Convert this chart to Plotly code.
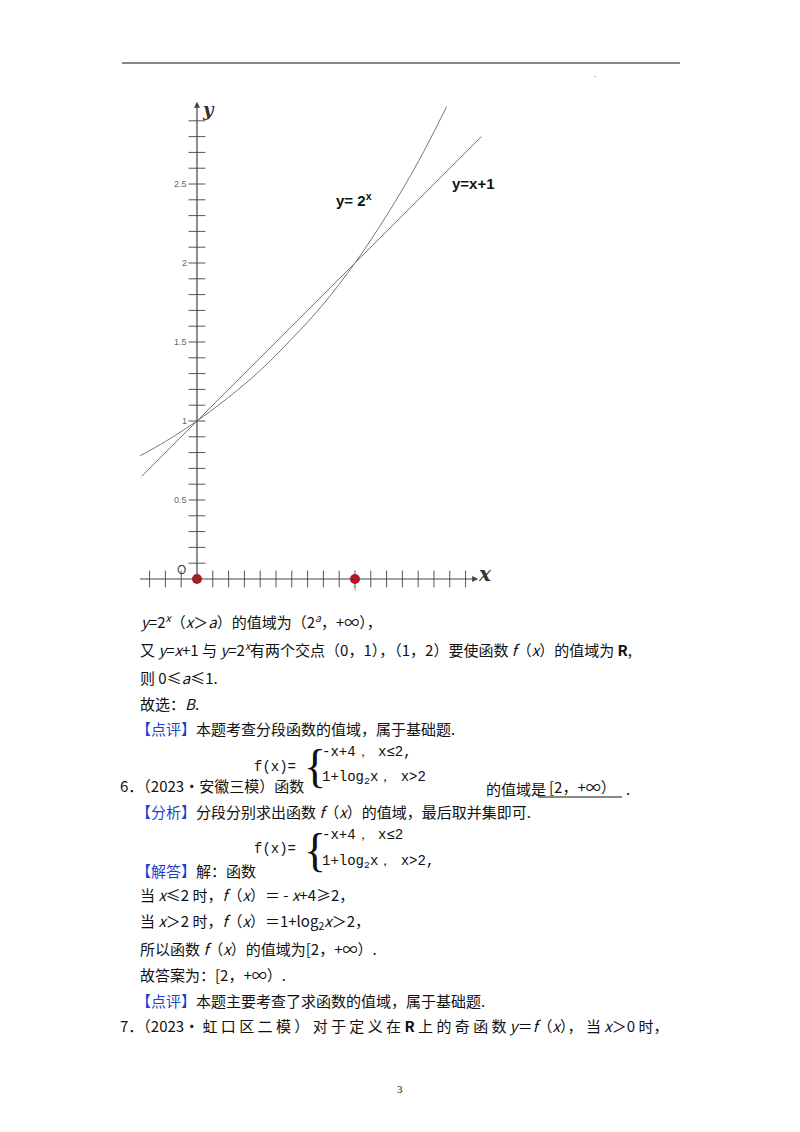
import numpy as np
import plotly.graph_objects as go

# points
exp_x = [-0.36, -0.2, 0.0, 0.2, 0.4, 0.6, 0.8, 1.0, 1.2, 1.4, 1.58]
exp_y = [0.78, 0.87, 1.0, 1.15, 1.32, 1.52, 1.74, 2.0, 2.30, 2.64, 2.99]
lin_x = [-0.35, 0.0, 1.0, 1.80]
lin_y = [0.65, 1.0, 2.0, 2.80]
dot_x = [0, 1]
dot_y = [0, 0]
ytick_vals = [0.5, 1, 1.5, 2, 2.5]
ytick_text = ["0.5", "1", "1.5", "2", "2.5"]

W, H = 800, 1132
OFF = 8  # page body margin in the browser
CURVE = "#8a6a86"
BLUE = "#1f3fd0"
CJK = "Noto Sans CJK SC"


def px(x):
    return (x - OFF) / W


def py(y):
    return 1 - (y - OFF) / H


fig = go.Figure()
fig.add_trace(go.Scatter(x=exp_x, y=exp_y, mode="lines", line=dict(color=CURVE, width=1, shape="spline")))
fig.add_trace(go.Scatter(x=lin_x, y=lin_y, mode="lines", line=dict(color=CURVE, width=1)))

# crossing tick marks on both axes
xt = np.round(np.arange(-0.3, 1.75, 0.1), 2)
xt = xt[xt != 0]
yt = np.round(np.arange(0.1, 2.95, 0.1), 2)
fig.add_trace(go.Scatter(x=xt, y=[0] * len(xt), mode="markers",
                         marker=dict(symbol="line-ns", size=12, line=dict(color="#555", width=1))))
fig.add_trace(go.Scatter(x=[0] * len(yt), y=yt, mode="markers",
                         marker=dict(symbol="line-ew", size=12, line=dict(color="#555", width=1))))
fig.add_trace(go.Scatter(x=dot_x, y=dot_y, mode="markers", marker=dict(color="#c0141c", size=10)))

ann = []
# axes with arrows
ann.append(dict(x=1.78, y=0, ax=-0.37, ay=0, xref="x", yref="y", axref="x", ayref="y",
                showarrow=True, arrowhead=2, arrowsize=1, arrowwidth=1.2, arrowcolor="#444", text=""))
ann.append(dict(x=0, y=3.02, ax=0, ay=-0.03, xref="x", yref="y", axref="x", ayref="y",
                showarrow=True, arrowhead=2, arrowsize=1, arrowwidth=1.2, arrowcolor="#444", text=""))
for v, s in zip(ytick_vals, ytick_text):
    ann.append(dict(x=-0.05, y=v, xref="x", yref="y", text=s, showarrow=False, xanchor="right",
                    font=dict(size=9, color="#666", family="Arial")))
ann.append(dict(x=1, y=-0.06, xref="x", yref="y", text="1", showarrow=False, font=dict(size=7, color="#666")))
ann.append(dict(x=-0.1, y=0.06, xref="x", yref="y", text="O", showarrow=False, font=dict(size=12, color="#333")))
ann.append(dict(x=1.82, y=0.03, xref="x", yref="y", text="<b><i>x</i></b>", showarrow=False,
                font=dict(size=20, family="DejaVu Serif", color="#333")))
ann.append(dict(x=0.07, y=2.97, xref="x", yref="y", text="<b><i>y</i></b>", showarrow=False,
                font=dict(size=18, family="DejaVu Serif", color="#333")))


def t(x, y, text, size=15, family=CJK, anchor="left"):
    ann.append(dict(x=px(x), y=py(y), xref="paper", yref="paper", text=text, showarrow=False,
                    xanchor=anchor, yanchor="middle", font=dict(size=size, family=family, color="#111")))


def tag(s):
    return f"<span style='color:{BLUE}'>【{s}】</span>"


t(334, 200, "<b>y= 2<sup>x</sup></b>", 15, "Arial")
t(450, 183, "<b>y=x+1</b>", 15, "Arial")

t(138, 621, "<i>y</i>=2<sup><i>x</i></sup>（<i>x</i>＞<i>a</i>）的值域为（2<sup><i>a</i></sup>，+∞），")
t(138, 649, "又 <i>y</i>=<i>x</i>+1 与 <i>y</i>=2<sup><i>x</i></sup>有两个交点（0，1），（1，2）要使函数 <i>f</i>（<i>x</i>）的值域为 <b>R</b>,")
t(138, 677, "则 0≤<i>a</i>≤1.")
t(138, 703, "故选：<i>B</i>.")
t(134, 728, tag("点评") + "本题考查分段函数的值域，属于基础题.")

MONO = "Liberation Mono"
t(118, 785, "6．（2023•安徽三模）函数")
t(252, 767, "f(x)=", 14, MONO)
t(302, 766, "{", 46, "Liberation Serif")
t(320, 752, "-x+4， x≤2,", 14, MONO)
t(320, 778, "1+log<sub>2</sub>x， x>2", 14, MONO)
t(484, 788, "的值域是")
t(547, 786, "[2，+∞）")
fig.add_shape(type="line", xref="paper", yref="paper", x0=px(538), x1=px(622), y0=py(797), y1=py(797),
              line=dict(color="#111", width=1))
t(624, 788, ".")
t(134, 811, tag("分析") + "分段分别求出函数 <i>f</i>（<i>x</i>）的值域，最后取并集即可.")

t(252, 849, "f(x)=", 14, MONO)
t(302, 850, "{", 46, "Liberation Serif")
t(320, 835, "-x+4， x≤2", 14, MONO)
t(320, 862, "1+log<sub>2</sub>x， x>2,", 14, MONO)
t(134, 870, tag("解答") + "解：函数")
t(138, 894, "当 <i>x</i>≤2 时，<i>f</i>（<i>x</i>）＝ - <i>x</i>+4≥2，")
t(138, 921, "当 <i>x</i>＞2 时，<i>f</i>（<i>x</i>）＝1+log<sub>2</sub><i>x</i>＞2，")
t(138, 948, "所以函数 <i>f</i>（<i>x</i>）的值域为[2，+∞）.")
t(138, 974, "故答案为：[2，+∞）.")
t(134, 1000, tag("点评") + "本题主要考查了求函数的值域，属于基础题.")
t(118, 1025, "7．（2023• 虹 口 区 二 模 ） 对 于 定 义 在 <b>R</b> 上 的 奇 函 数 <i>y</i>＝<i>f</i>（<i>x</i>）， 当 <i>x</i>＞0 时，")
t(400, 1089, "3", 11, "Liberation Serif", "center")
t(595, 75, ".", 8, "Arial", "center")

fig.add_shape(type="line", xref="paper", yref="paper", x0=px(122), x1=px(680), y0=py(63), y1=py(63),
              line=dict(color="#111", width=1.2))

fig.update_layout(
    width=W, height=H, margin=dict(l=0, r=0, t=0, b=0), showlegend=False,
    plot_bgcolor="white", paper_bgcolor="white", annotations=ann,
    xaxis=dict(domain=[px(130), px(500)], range=[-0.424, 1.918], visible=False),
    yaxis=dict(domain=[py(600), py(90)], range=[-0.133, 3.095], visible=False),
)
fig.write_html("out.html")
